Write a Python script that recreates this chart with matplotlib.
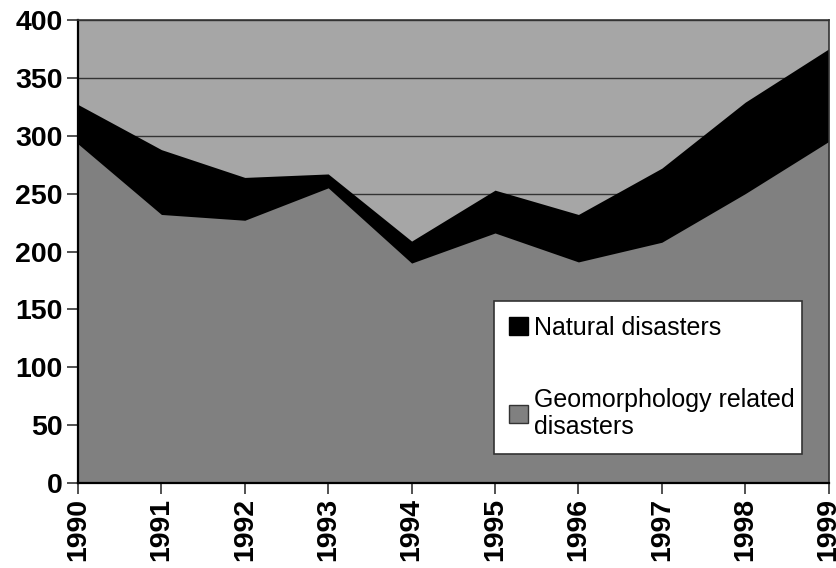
import matplotlib
matplotlib.use("Agg")
import matplotlib.pyplot as plt
from matplotlib.patches import Patch

# data
years = [1990, 1991, 1992, 1993, 1994, 1995, 1996, 1997, 1998, 1999]
natural_total = [327, 288, 264, 267, 209, 253, 232, 272, 329, 375]
geomorph = [293, 232, 227, 255, 190, 216, 191, 208, 250, 295]
yticks = [0, 50, 100, 150, 200, 250, 300, 350, 400]

plt.rcParams['font.family'] = ['Liberation Sans', 'DejaVu Sans']

fig = plt.figure(figsize=(8.37, 5.68), dpi=100)
ax = fig.add_axes([0.0932, 0.1496, 0.8968, 0.8152])

ax.set_facecolor('#a6a6a6')
ax.fill_between(years, 0, natural_total, color='black', lw=0, zorder=2)
ax.fill_between(years, 0, geomorph, color='#808080', lw=0, zorder=3)

ax.set_xlim(years[0], years[-1])
ax.set_ylim(0, 400)
ax.set_yticks(yticks)
ax.set_xticks(years)
ax.set_xticklabels([str(y) for y in years], rotation=90)
ax.grid(axis='y', color='#333333', lw=1, zorder=1)
ax.set_axisbelow(True)

for lab in ax.get_xticklabels() + ax.get_yticklabels():
    lab.set_fontsize(20.5)
    lab.set_fontweight('bold')
ax.tick_params(direction='out', length=8, width=1.2, color='#333333', pad=3)

for s in ax.spines.values():
    s.set_color('#333333')
    s.set_linewidth(1.2)
    s.set_zorder(5)
ax.spines['left'].set_color('black')
ax.spines['bottom'].set_color('black')
ax.spines['left'].set_linewidth(1.6)
ax.spines['bottom'].set_linewidth(1.6)

handles = [Patch(facecolor='black', edgecolor='black'),
           Patch(facecolor='#808080', edgecolor='#333333')]
labels = ['Natural disasters', 'Geomorphology related\ndisasters']
leg = ax.legend(handles, labels, loc='upper left', bbox_to_anchor=(0.554, 0.393, 0.41, 0.0),
                mode='expand', fontsize=18, frameon=True, fancybox=False,
                edgecolor='#333333', facecolor='white', framealpha=1,
                handlelength=0.75, handleheight=0.75, handletextpad=0.25,
                labelspacing=1.9, borderpad=0.6, borderaxespad=0)
leg.get_frame().set_linewidth(1.2)
leg.set_zorder(6)

fig.savefig('out.png', dpi=100)
